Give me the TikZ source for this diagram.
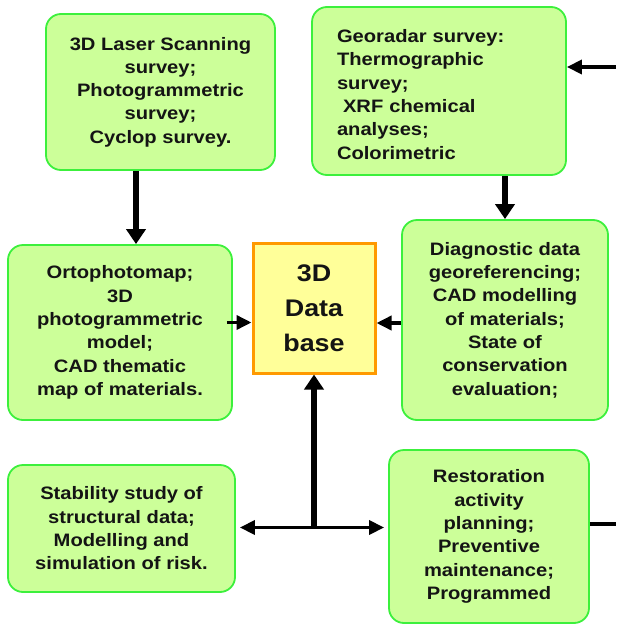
\documentclass[tikz,border=0pt]{standalone}
\usepackage{fontspec}
\setmainfont{Liberation Sans}[FakeStretch=1.12]
\usetikzlibrary{arrows.meta}
\definecolor{boxfill}{RGB}{204,255,153}
\definecolor{boxline}{RGB}{60,240,60}
\definecolor{dbfill}{RGB}{255,255,153}
\definecolor{dbline}{RGB}{255,153,0}
\definecolor{ink}{RGB}{20,20,20}
\begin{document}
\begin{tikzpicture}[x=1pt,y=-1pt,
  gbox/.style={draw=boxline, fill=boxfill, line width=1.8pt, rounded corners=15pt,
    inner sep=0pt, align=center, text=ink, font=\fontsize{18}{23.3}\selectfont\bfseries},
  dbbox/.style={draw=dbline, fill=dbfill, line width=3pt, inner sep=0pt, align=center,
    text=ink, minimum width=122pt, minimum height=130pt,
    font=\fontsize{24}{35}\selectfont\bfseries},
  varr/.style={line width=5.5pt, -{Triangle[length=15pt,width=19pt]}},
  harr/.style={line width=3.5pt, -{Triangle[length=15pt,width=14pt]}},
  darr/.style={line width=3.5pt, {Triangle[length=15pt,width=14pt]}-{Triangle[length=15pt,width=14pt]}},
  plain/.style={line width=3.5pt}]
\useasboundingbox[fill=white] (0,0) rectangle (616,624);

\node[gbox, minimum width=229pt, minimum height=156pt] (b1) at (160.5,92)
  {3D Laser Scanning\\survey;\\Photogrammetric\\survey;\\Cyclop survey.};
\node[gbox, minimum width=254pt, minimum height=168pt, text width=204pt, align=left] (b2) at (439,91)
  {\rule{0pt}{20pt}Georadar survey:\\Thermographic\\survey;\\\ XRF chemical\\analyses;\\Colorimetric};
\node[gbox, minimum width=224pt, minimum height=175pt] (b3) at (120,332.5)
  {Ortophotomap;\\3D\\photogrammetric\\model;\\CAD thematic\\map of materials.};
\node[dbbox] (db) at (314,308) {3D\\Data\\base};
\node[gbox, minimum width=206pt, minimum height=200pt] (b4) at (505,320)
  {Diagnostic data\\georeferencing;\\CAD modelling\\of materials;\\State of\\conservation\\evaluation;};
\node[gbox, minimum width=227pt, minimum height=127pt] (b5) at (121.5,528.5)
  {Stability study of\\structural data;\\Modelling and\\simulation of risk.};
\node[gbox, minimum width=200pt, minimum height=173pt] (b6) at (489,536.5)
  {Restoration\\activity\\planning;\\Preventive\\maintenance;\\Programmed};

\coordinate (inR) at (616,67);
\coordinate (outR) at (616,524);
\coordinate (J) at ([yshift=1pt]b5.east -| db.south);

\draw[varr] ([xshift=-24.5pt]b1.south) -- ([xshift=-24.5pt]b1.south |- b3.north);
\draw[varr] (b2.south -| b4.north) -- (b4.north);
\draw[harr] (inR) -- (inR -| b2.east);
\draw[harr] ([xshift=-6pt,yshift=10pt]b3.east) -- ([yshift=10pt]b3.east -| db.west);
\draw[harr] ([yshift=-3pt]b4.west) -- ([yshift=-3pt]b4.west -| db.east);
\draw[varr] (J) -- (db.south);
\draw[darr] ([xshift=4pt]J -| b5.east) -- ([xshift=-4pt]J -| b6.west);
\draw[plain] (b6.east |- outR) -- (outR);
\end{tikzpicture}
\end{document}
